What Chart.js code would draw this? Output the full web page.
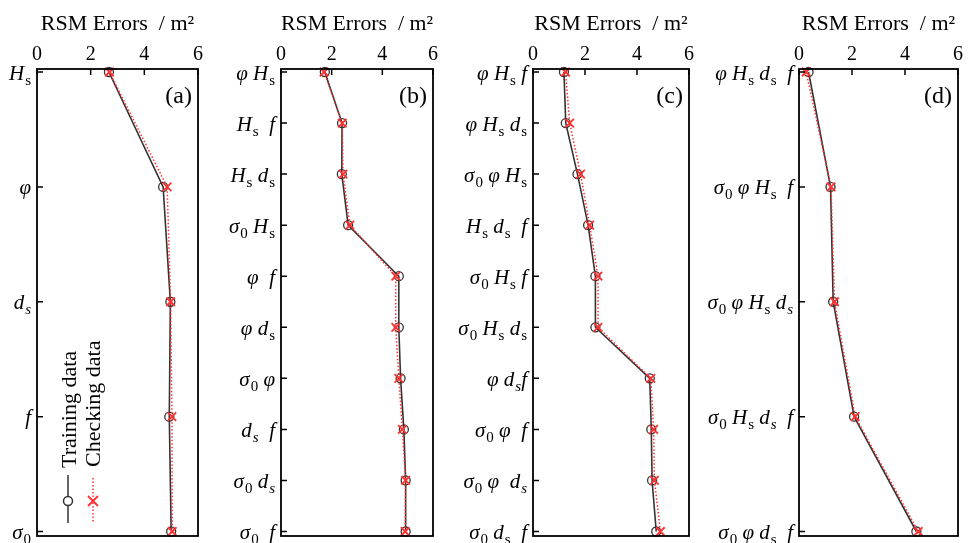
<!DOCTYPE html>
<html>
<head>
<meta charset="utf-8">
<script src="https://cdn.jsdelivr.net/npm/chart.js@4.4.1/dist/chart.umd.min.js"></script>
<style>
  body { margin: 0; background: #fff; width: 972px; height: 543px; position: relative; overflow: hidden; }
  canvas { position: absolute; top: 0; }
</style>
</head>
<body>
<canvas id="pa"></canvas>
<canvas id="pb"></canvas>
<canvas id="pc"></canvas>
<canvas id="pd"></canvas>
<script>
// RSM errors per input combination
// label markup: "_x" upright subscript, "~x" italic subscript
const xTicks = [0, 2, 4, 6];

const labelsA = ['H_s', 'φ', 'd~s', 'f', 'σ_0'];
const trainA = [2.68, 4.70, 4.97, 4.93, 5.00];
const checkA = [2.70, 4.85, 4.98, 5.03, 5.04];

const labelsB = ['φ H_s', 'H_s  f', 'H_s d_s', 'σ_0 H_s', 'φ  f', 'φ d_s', 'σ_0 φ', 'd~s  f', 'σ_0 d~s', 'σ_0  f'];
const trainB = [1.73, 2.41, 2.40, 2.65, 4.65, 4.65, 4.72, 4.85, 4.92, 4.92];
const checkB = [1.70, 2.42, 2.45, 2.72, 4.53, 4.53, 4.65, 4.79, 4.92, 4.90];

const labelsC = ['φ H_s f', 'φ H_s d_s', 'σ_0 φ H_s', 'H_s d_s  f', 'σ_0 H_s f', 'σ_0 H_s d_s', 'φ d~sf', 'σ_0 φ  f', 'σ_0 φ  d~s', 'σ_0 d_s  f'];
const trainC = [1.19, 1.26, 1.71, 2.12, 2.40, 2.40, 4.49, 4.55, 4.58, 4.74];
const checkC = [1.25, 1.41, 1.83, 2.18, 2.50, 2.50, 4.53, 4.64, 4.67, 4.90];

const labelsD = ['φ H_s d_s  f', 'σ_0 φ H_s  f', 'σ_0 φ H_s d~s', 'σ_0 H_s d~s  f', 'σ_0 φ d_s  f'];
const trainD = [0.36, 1.19, 1.29, 2.08, 4.43];
const checkD = [0.27, 1.21, 1.34, 2.12, 4.50];

const SERIF = '"Liberation Serif", "Times New Roman", serif';
const LABEL_SPACE = 120;

const panels = [
  { id: 'pa', tag: '(a)', labels: labelsA, train: trainA, check: checkA, left: 37, right: 198, legend: true },
  { id: 'pb', tag: '(b)', labels: labelsB, train: trainB, check: checkB, left: 281, right: 433 },
  { id: 'pc', tag: '(c)', labels: labelsC, train: trainC, check: checkC, left: 533, right: 689 },
  { id: 'pd', tag: '(d)', labels: labelsD, train: trainD, check: checkD, left: 799, right: 958 }
];

function parseLabel(str) {
  const segs = [];
  for (let i = 0; i < str.length; i++) {
    const c = str[i];
    if (c === '_' || c === '~') {
      segs.push({ t: str[i + 1], sub: true, it: c === '~' });
      i++;
    } else {
      segs.push({ t: c, sub: false, it: true });
    }
  }
  return segs;
}

function segFont(s) {
  return s.sub ? (s.it ? 'italic ' : '') + '15px ' + SERIF : 'italic 21px ' + SERIF;
}

function drawLabel(ctx, str, xRight, y) {
  const segs = parseLabel(str);
  let w = 0;
  segs.forEach(s => {
    ctx.font = segFont(s);
    s.w = ctx.measureText(s.t).width + (s.sub ? 1 : 0);
    w += s.w;
  });
  let x = xRight - w;
  ctx.textAlign = 'left';
  ctx.textBaseline = 'alphabetic';
  segs.forEach(s => {
    ctx.font = segFont(s);
    ctx.fillText(s.t, s.sub ? x + 1 : x, s.sub ? y + 5 : y);
    x += s.w;
  });
}

const decor = {
  id: 'decor',
  afterDraw(chart, args, opts) {
    const ctx = chart.ctx;
    const a = chart.chartArea;
    const xs = chart.scales.x;
    const ys = chart.scales.y;
    const top = a.top - 3;
    const bottom = a.bottom + 4.5;
    ctx.save();
    ctx.strokeStyle = '#000';
    ctx.fillStyle = '#000';
    ctx.lineWidth = 1.8;
    ctx.strokeRect(a.left, top, a.right - a.left, bottom - top);

    ctx.lineWidth = 1.5;
    ctx.beginPath();
    xTicks.forEach(v => {
      const px = xs.getPixelForValue(v);
      ctx.moveTo(px, top);
      ctx.lineTo(px, top + 6);
    });
    opts.labels.forEach((l, i) => {
      const py = ys.getPixelForValue(i);
      ctx.moveTo(a.left, py);
      ctx.lineTo(a.left + 6, py);
    });
    ctx.stroke();

    opts.labels.forEach((l, i) => {
      drawLabel(ctx, l, a.left - 6, ys.getPixelForValue(i) + 7.5);
    });

    ctx.font = '24px ' + SERIF;
    ctx.textAlign = 'right';
    ctx.textBaseline = 'alphabetic';
    ctx.fillText(opts.tag, a.right - 6, top + 34);

    if (opts.legend) {
      const lx1 = a.left + 31;
      const lx2 = a.left + 56;
      // training entry
      ctx.strokeStyle = '#333';
      ctx.lineWidth = 1.5;
      ctx.beginPath();
      ctx.moveTo(lx1, 475);
      ctx.lineTo(lx1, 523);
      ctx.stroke();
      ctx.fillStyle = '#fff';
      ctx.beginPath();
      ctx.arc(lx1, 501, 4.5, 0, Math.PI * 2);
      ctx.fill();
      ctx.stroke();
      // checking entry
      ctx.strokeStyle = '#ff3030';
      ctx.setLineDash([1.5, 2]);
      ctx.beginPath();
      ctx.moveTo(lx2, 478);
      ctx.lineTo(lx2, 523);
      ctx.stroke();
      ctx.setLineDash([]);
      ctx.lineWidth = 1.8;
      ctx.beginPath();
      ctx.moveTo(lx2 - 5, 496); ctx.lineTo(lx2 + 5, 506);
      ctx.moveTo(lx2 + 5, 496); ctx.lineTo(lx2 - 5, 506);
      ctx.stroke();
      // rotated texts
      ctx.fillStyle = '#000';
      ctx.font = '22px ' + SERIF;
      ctx.textAlign = 'left';
      [['Training data', a.left + 38.5, 468], ['Checking data', a.left + 63, 467]].forEach(([t, x, y]) => {
        ctx.save();
        ctx.translate(x, y);
        ctx.rotate(-Math.PI / 2);
        ctx.fillText(t, 0, 0);
        ctx.restore();
      });
    }
    ctx.restore();
  }
};

panels.forEach(p => {
  const cv = document.getElementById(p.id);
  const w = LABEL_SPACE + (p.right - p.left) + 14;
  cv.width = w;
  cv.height = 543;
  cv.style.left = (p.left - LABEL_SPACE) + 'px';

  new Chart(cv, {
    type: 'line',
    data: {
      labels: p.labels,
      datasets: [
        {
          label: 'Checking data',
          data: p.check,
          borderColor: '#ff3030',
          borderWidth: 1.5,
          borderDash: [1.5, 2],
          pointStyle: 'crossRot',
          pointRadius: 6,
          pointBorderWidth: 1.8,
          pointBorderColor: '#ff3030',
          order: 1
        },
        {
          label: 'Training data',
          data: p.train,
          borderColor: '#333',
          borderWidth: 1.6,
          pointStyle: 'circle',
          pointRadius: 4.5,
          pointBorderWidth: 1.3,
          pointBorderColor: '#333',
          pointBackgroundColor: 'rgba(0,0,0,0)',
          order: 2
        }
      ]
    },
    options: {
      indexAxis: 'y',
      responsive: false,
      animation: false,
      devicePixelRatio: 1,
      layout: { padding: { top: 0, bottom: 11.5, left: 0, right: 14 } },
      plugins: {
        legend: { display: false },
        tooltip: { enabled: false },
        decor: { labels: p.labels, tag: p.tag, legend: !!p.legend }
      },
      scales: {
        x: {
          type: 'linear',
          position: 'top',
          min: 0,
          max: 6,
          afterFit: s => { s.height = 72; },
          ticks: {
            stepSize: 2,
            padding: -3,
            color: '#000',
            font: { family: SERIF, size: 20 }
          },
          grid: { display: false },
          border: { display: false },
          title: {
            display: true,
            text: 'RSM Errors  / m²',
            color: '#000',
            padding: { top: 11, bottom: 0 },
            font: { family: SERIF, size: 22 }
          }
        },
        y: {
          type: 'category',
          position: 'left',
          offset: false,
          afterFit: s => { s.width = LABEL_SPACE; },
          ticks: { display: false },
          grid: { display: false },
          border: { display: false }
        }
      }
    },
    plugins: [decor]
  });
});
</script>
</body>
</html>
